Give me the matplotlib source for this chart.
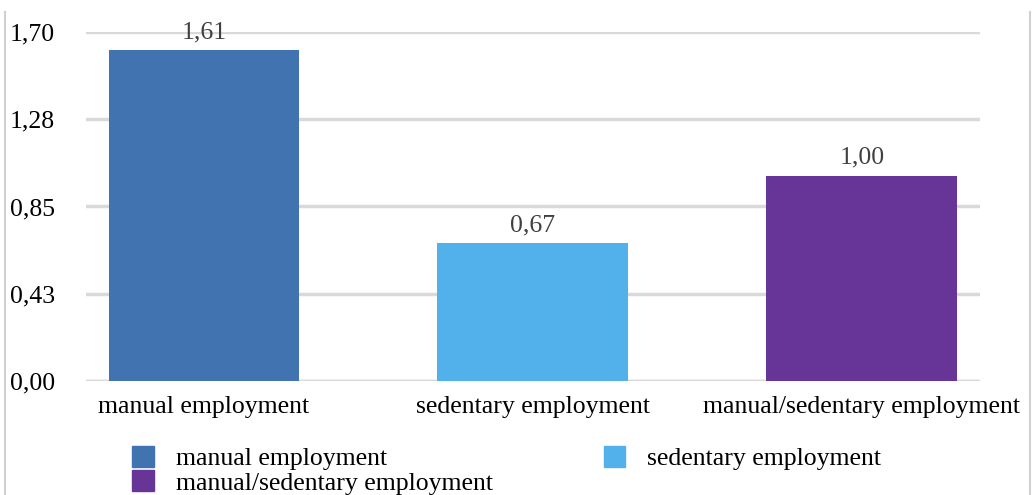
import matplotlib.pyplot as plt
from matplotlib.patches import Patch
from matplotlib.lines import Line2D

categories = ["manual employment", "sedentary employment", "manual/sedentary employment"]
values = [1.61, 0.67, 1.00]
value_labels = ["1,61", "0,67", "1,00"]
colors = ["#4173B0", "#52B0EA", "#663597"]
yticks = [0.0, 0.425, 0.85, 1.275, 1.70]
ytick_labels = ["0,00", "0,43", "0,85", "1,28", "1,70"]

plt.rcParams['font.family'] = ['Liberation Serif', 'DejaVu Serif']
FS = 18.5

fig = plt.figure(figsize=(10.34, 4.95), dpi=100)
ax = fig.add_axes([0.083, 0.2303, 0.865, 0.7051])

x = range(len(categories))
bars = ax.bar(x, values, width=0.58, color=colors, zorder=3)
for b, lab in zip(bars, value_labels):
    ax.text(b.get_x() + b.get_width() / 2, b.get_height() + 0.035, lab,
            ha='center', va='bottom', fontsize=FS, color='#404040')

ax.set_xlim(-0.359, 2.36)
ax.set_ylim(0, 1.70)
ax.set_yticks(yticks)
ax.set_yticklabels(ytick_labels, fontsize=FS)
ax.set_xticks(list(x))
ax.set_xticklabels(categories, fontsize=FS)
ax.tick_params(length=0)
ax.tick_params(axis='y', pad=22)
ax.tick_params(axis='x', pad=11)
ax.yaxis.grid(True, color='#d9d9d9', linewidth=2.5, zorder=0)
for s in ax.spines.values():
    s.set_visible(False)
ax.axhline(0, color='#d9d9d9', linewidth=2.5, zorder=2)

handles = [Patch(color=c) for c in colors]
order = [0, 2, 1]
fig.legend([handles[i] for i in order], [categories[i] for i in order],
           ncol=2, loc='upper left', bbox_to_anchor=(0.128, 0.10),
           frameon=False, fontsize=FS, handlelength=0.85, handleheight=0.9,
           handletextpad=0.85, columnspacing=4.3, labelspacing=0.0,
           borderpad=0, borderaxespad=0)

# outer frame edges
fig.add_artist(Line2D([0.005, 0.005], [0, 0.975], color='#d0d0d0', lw=1.5))
fig.add_artist(Line2D([0.996, 0.996], [0, 0.975], color='#d0d0d0', lw=1.5))

fig.savefig("out.png", dpi=100)
